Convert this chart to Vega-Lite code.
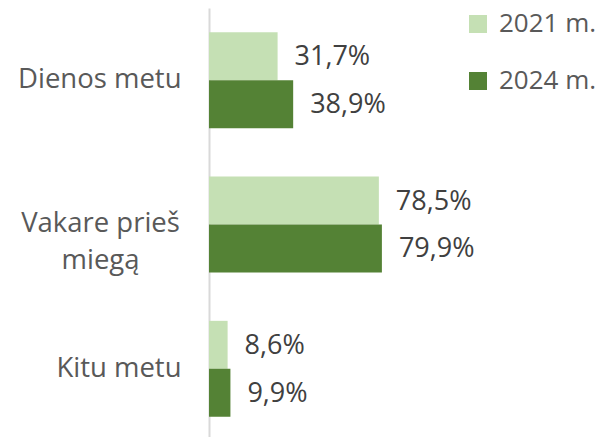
{
  "$schema": "https://vega.github.io/schema/vega-lite/v6.json",
  "autosize": "none",
  "width": 216.4,
  "height": 433,
  "padding": {"left": 209, "top": 8, "right": 178, "bottom": 0},
  "background": "white",
  "config": {"view": {"stroke": null}, "font": "Open Sans"},
  "data": {"values": [
    {"cat": "Dienos metu", "year": "2021 m.", "value": 31.7, "label": "31,7%"},
    {"cat": "Dienos metu", "year": "2024 m.", "value": 38.9, "label": "38,9%"},
    {"cat": "Vakare prieš miegą", "year": "2021 m.", "value": 78.5, "label": "78,5%"},
    {"cat": "Vakare prieš miegą", "year": "2024 m.", "value": 79.9, "label": "79,9%"},
    {"cat": "Kitu metu", "year": "2021 m.", "value": 8.6, "label": "8,6%"},
    {"cat": "Kitu metu", "year": "2024 m.", "value": 9.9, "label": "9,9%"}
  ]},
  "encoding": {
    "y": {
      "field": "cat", "type": "nominal",
      "sort": ["Dienos metu", "Vakare prieš miegą", "Kitu metu"],
      "scale": {"paddingInner": 0.335, "paddingOuter": 0.1675},
      "axis": {
        "title": null, "ticks": false, "grid": false,
        "domainColor": "#d9d9d9", "domainWidth": 2,
        "labelFont": "Open Sans", "labelFontSize": 27.5, "labelColor": "#595959",
        "labelPadding": {"condition": {"test": "datum.value == 'Vakare prieš miegą'", "value": 109}, "value": 28},
        "labelAlign": {"condition": {"test": "datum.value == 'Vakare prieš miegą'", "value": "center"}, "value": "right"},
        "labelLineHeight": 37,
        "labelExpr": "datum.value == 'Vakare prieš miegą' ? ['Vakare prieš', 'miegą'] : datum.value"
      }
    },
    "yOffset": {"field": "year", "type": "nominal", "sort": ["2021 m.", "2024 m."]},
    "x": {"field": "value", "type": "quantitative", "scale": {"domain": [0, 100]}, "axis": null}
  },
  "layer": [
    {
      "mark": {"type": "bar"},
      "encoding": {
        "color": {
          "field": "year", "type": "nominal",
          "scale": {"domain": ["2021 m.", "2024 m."], "range": ["#c5e0b4", "#548235"]},
          "legend": {
            "title": null, "orient": "none", "legendX": 256, "legendY": 3,
            "symbolType": "square", "symbolSize": 324, "symbolStrokeWidth": 0,
            "labelFont": "Open Sans", "labelFontSize": 26, "labelColor": "#595959",
            "labelOffset": 8, "rowPadding": 31, "padding": 0
          }
        }
      }
    },
    {
      "mark": {"type": "text", "align": "left", "baseline": "middle", "dx": 17, "dy": 1, "fontSize": 27, "color": "#404040", "font": "Open Sans"},
      "encoding": {"text": {"field": "label"}}
    }
  ]
}
